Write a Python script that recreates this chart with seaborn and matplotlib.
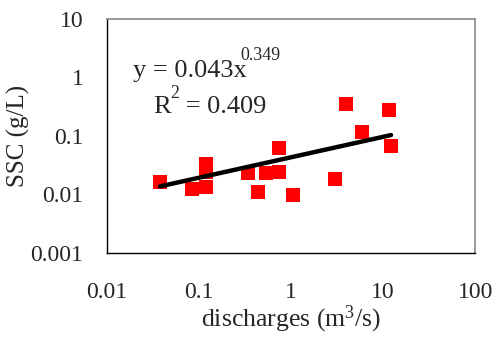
import numpy as np
import pandas as pd
import matplotlib
matplotlib.use('Agg')
import matplotlib.pyplot as plt
import seaborn as sns

# discharge (m3/s) and suspended sediment concentration (g/L)
discharge = [0.0377, 0.0845, 0.119, 0.119, 0.119, 0.338, 0.434, 0.531,
             0.746, 0.746, 1.06, 3.03, 3.93, 5.87, 11.7, 12.2]
ssc = [0.0164, 0.0122, 0.0336, 0.024, 0.0133, 0.0228, 0.0111, 0.0228,
       0.0624, 0.0243, 0.0097, 0.018, 0.348, 0.117, 0.275, 0.0675]

# power trendline shown on the chart
coef_a = 0.043
coef_b = 0.349
r_squared = 0.409

x_ticks = [0.01, 0.1, 1, 10, 100]
x_labels = ['0.01', '0.1', '1', '10', '100']
y_ticks = [0.001, 0.01, 0.1, 1, 10]
y_labels = ['0.001', '0.01', '0.1', '1', '10']

df = pd.DataFrame({'Q': discharge, 'SSC': ssc})
trend = pd.DataFrame({'Q': sorted(discharge)})
trend['SSC'] = coef_a * trend['Q'] ** coef_b

sns.set_style('white')
plt.rcParams['font.family'] = ['Liberation Serif', 'DejaVu Serif']
plt.rcParams['mathtext.fontset'] = 'custom'
plt.rcParams['mathtext.rm'] = 'Liberation Serif'
plt.rcParams['mathtext.it'] = 'Liberation Serif:italic'

fig = plt.figure(figsize=(4.95, 3.38), dpi=100)
ax = fig.add_axes([0.216, 0.2515, 0.744, 0.6935])

sns.lineplot(data=trend, x='Q', y='SSC', ax=ax, color='black', lw=3.2,
             estimator=None, zorder=3)
sns.scatterplot(data=df, x='Q', y='SSC', ax=ax, marker='s', color='#ff0000',
                s=90, linewidth=0, zorder=2)

ax.set_xscale('log')
ax.set_yscale('log')
ax.set_xlim(0.01, 100)
ax.set_ylim(0.001, 10)
ax.set_xticks(x_ticks)
ax.set_xticklabels(x_labels)
ax.set_yticks(y_ticks)
ax.set_yticklabels(y_labels)
ax.minorticks_off()
ax.tick_params(axis='both', which='major', direction='out', length=7,
               width=1, color='black', labelsize=17)
ax.tick_params(axis='x', pad=14)
ax.tick_params(axis='y', pad=10)

for side in ['left', 'bottom']:
    ax.spines[side].set_color('black')
    ax.spines[side].set_linewidth(1)
for side in ['top', 'right']:
    ax.spines[side].set_color('#888888')
    ax.spines[side].set_linewidth(1.2)

ax.set_xlabel('discharges (m$^{3}$/s)', fontsize=18.5, labelpad=0)
ax.set_ylabel('SSC (g/L)', fontsize=18, labelpad=0)


def put_text(parts, x, y, size):
    # place text pieces one after another; parts are (text, raise_px, small, gap)
    fig.canvas.draw()
    r = fig.canvas.get_renderer()
    px, py = ax.transAxes.transform((x, y))
    for txt, rise, small, gap in parts:
        fs = size * 0.68 if small else size
        t = ax.text(px + gap, py + rise, txt, transform=None, fontsize=fs,
                    va='baseline', ha='left')
        px = t.get_window_extent(r).x1 + gap


put_text([(f'y = {coef_a}x', 0, False, 0), (f'{coef_b}', 17, True, -6)],
         0.07, 0.75, 19)
put_text([('R', 0, False, 0), ('2', 15, True, 0),
          (f' = {r_squared}', 0, False, 0)], 0.125, 0.597, 19)

fig.savefig('out.png', dpi=100)
